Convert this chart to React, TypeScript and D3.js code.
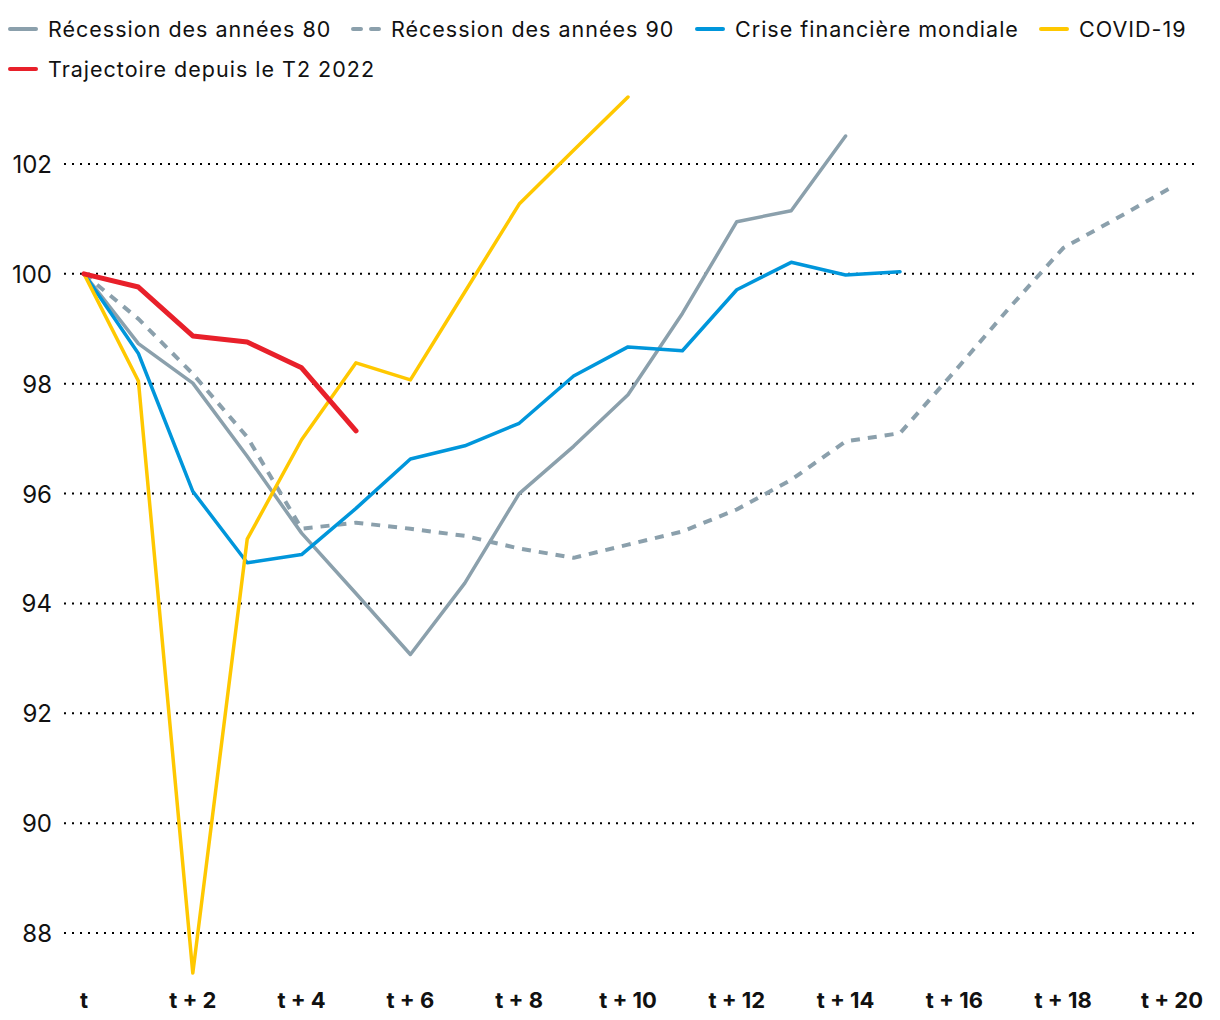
import React from "react";
import * as d3 from "d3";

const xTickLabels = ["t", "t + 2", "t + 4", "t + 6", "t + 8", "t + 10", "t + 12", "t + 14", "t + 16", "t + 18", "t + 20"];
const xTickValues = [0, 2, 4, 6, 8, 10, 12, 14, 16, 18, 20];
const yTicks = [88, 90, 92, 94, 96, 98, 100, 102];

const recession80 = [100, 98.73, 98.01, 96.68, 95.28, 94.18, 93.07, 94.37, 96.0, 96.86, 97.8, 99.28, 100.95, 101.15, 102.51];
const recession90 = [100, 99.18, 98.18, 97.03, 95.36, 95.47, 95.36, 95.23, 95.0, 94.83, 95.07, 95.31, 95.71, 96.25, 96.95, 97.1, 98.22, 99.37, 100.47, 101.02, 101.58];
const gfc = [100, 98.55, 96.04, 94.74, 94.89, 95.73, 96.63, 96.87, 97.28, 98.14, 98.67, 98.6, 99.71, 100.21, 99.98, 100.04];
const covid = [100, 98.05, 87.27, 95.17, 96.98, 98.38, 98.07, 99.67, 101.27, 102.25, 103.22];
const current = [100, 99.76, 98.87, 98.76, 98.29, 97.14];

const seriesNames = ["Récession des années 80", "Récession des années 90", "Crise financière mondiale", "COVID-19", "Trajectoire depuis le T2 2022"];

const FONT = "Inter, 'Noto Sans', sans-serif";

export default function App() {
  const x = d3.scaleLinear().domain([0, 20]).range([84, 1172]);
  const y = d3.scaleLinear().domain([88, 102]).range([933, 164]);
  const line = d3
    .line<number>()
    .x((_, i) => x(i))
    .y((d) => y(d));

  const series = [
    { name: seriesNames[0], data: recession80, color: "#8BA0AC", width: 3.5, dash: null as string | null },
    { name: seriesNames[1], data: recession90, color: "#8BA0AC", width: 4, dash: "9,8" },
    { name: seriesNames[2], data: gfc, color: "#0096DB", width: 3.5, dash: null },
    { name: seriesNames[3], data: covid, color: "#FFC800", width: 3.5, dash: null },
    { name: seriesNames[4], data: current, color: "#E8202A", width: 5, dash: null },
  ];

  const legendItems = [
    { s: series[0], sx: 10, ty: 29 },
    { s: series[1], sx: 353, ty: 29 },
    { s: series[2], sx: 697, ty: 29 },
    { s: series[3], sx: 1041, ty: 29 },
    { s: series[4], sx: 10, ty: 69 },
  ];

  return (
    <>
      <style>{`body{margin:0}`}</style>
      <svg width={1220} height={1020} style={{ display: "block", background: "#fff" }}>
        {yTicks.map((t) => (
          <g key={t}>
            <line x1={64} x2={1195} y1={y(t)} y2={y(t)} stroke="#000" strokeWidth={2} strokeDasharray="2,6" />
            <text x={52} y={y(t) + 9} textAnchor="end" fontFamily={FONT} fontSize={24} fill="#111">
              {t}
            </text>
          </g>
        ))}
        {xTickValues.map((v, i) => (
          <text key={v} x={x(v)} y={1008} textAnchor="middle" fontFamily={FONT} fontSize={22} fontWeight={700} fill="#111">
            {xTickLabels[i]}
          </text>
        ))}
        {series.map((s) => (
          <path
            key={s.name}
            d={line(s.data) || ""}
            fill="none"
            stroke={s.color}
            strokeWidth={s.width}
            strokeDasharray={s.dash || undefined}
            strokeLinejoin="round"
            strokeLinecap={s.dash ? "butt" : "round"}
          />
        ))}
        {legendItems.map(({ s, sx, ty }) => (
          <g key={s.name}>
            <line
              x1={sx}
              x2={sx + 26}
              y1={ty}
              y2={ty}
              stroke={s.color}
              strokeWidth={4}
              strokeLinecap="round"
              strokeDasharray={s.dash ? "8,10" : undefined}
            />
            <text x={sx + 38} y={ty + 8} fontFamily={FONT} fontSize={21.5} letterSpacing={1} fill="#111">
              {s.name}
            </text>
          </g>
        ))}
      </svg>
    </>
  );
}
